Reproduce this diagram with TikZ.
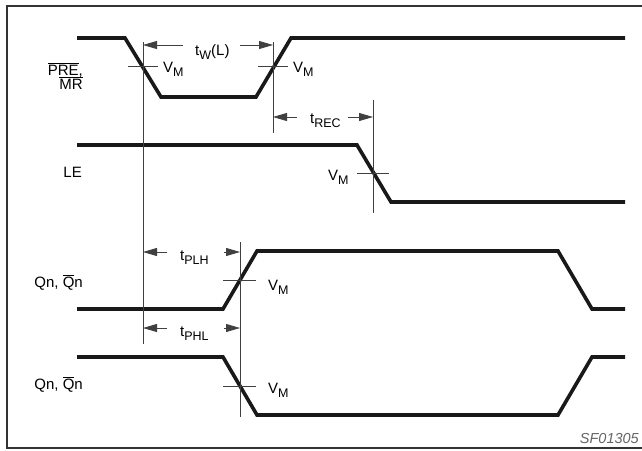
\documentclass[tikz,border=0pt]{standalone}
\usepackage{fontspec}
\setmainfont{Liberation Sans}
\usetikzlibrary{arrows.meta}
\newcommand\sbs[1]{\raisebox{-0.3em}{\fontsize{12.5}{13}\selectfont #1}}
\newcommand\ovl[1]{$\overline{\mbox{#1}}$}
\tikzset{
  wave/.style={line width=3.6pt, line join=miter, line cap=butt, black!90},
  thinl/.style={line width=0.8pt, black!75},
  dimarrow/.style={thinl, -{Triangle[length=14pt,width=8pt]}},
  lbl/.style={inner sep=0pt, font=\fontsize{15}{17}\selectfont},
  frame/.style={line width=2pt, black!80}
}
\begin{document}
\begin{tikzpicture}[x=1pt,y=-1pt]
\useasboundingbox (0,0) rectangle (642,450);
\clip (0,0) rectangle (642,450);
\fill[white] (0,0) rectangle (642,450);
\draw[frame] (7,6) rectangle (680,448);

% waveforms
\draw[wave] (77,38) -- (125,38) -- (161,97) -- (256,97) -- (291,38) -- (625,38);
\draw[wave] (77,145) -- (357,145) -- (391,202) -- (625,202);
\draw[wave] (77,309) -- (223,309) -- (257,251) -- (558,251) -- (592,309) -- (625,309);
\draw[wave] (77,357) -- (223,357) -- (257,415) -- (558,415) -- (592,357) -- (625,357);

% reference verticals
\coordinate (v1t) at (143,42);  \coordinate (v1b) at (143,344);
\coordinate (v2t) at (273,42);  \coordinate (v2b) at (273,133);
\coordinate (v3t) at (373,100); \coordinate (v3b) at (373,213);
\coordinate (v4t) at (240,242); \coordinate (v4b) at (240,417);
\draw[thinl] (v1t) -- (v1b);
\draw[thinl] (v2t) -- (v2b);
\draw[thinl] (v3t) -- (v3b);
\draw[thinl] (v4t) -- (v4b);

% VM ticks
\coordinate (m1a) at (128,66); \coordinate (m1b) at (158,66);
\coordinate (m2a) at (258,66); \coordinate (m2b) at (288,66);
\coordinate (m3a) at (357,173); \coordinate (m3b) at (389,173);
\coordinate (m4a) at (223,280); \coordinate (m4b) at (256,280);
\coordinate (m5a) at (223,386); \coordinate (m5b) at (256,386);
\foreach \a/\b in {m1a/m1b,m2a/m2b,m3a/m3b,m4a/m4b,m5a/m5b}
  \draw[thinl] (\a) -- (\b);

% VM labels
\node[lbl, anchor=base west] (vm1) at (163,72) {V\sbs{M}};
\node[lbl, anchor=base west] (vm2) at (293,72) {V\sbs{M}};
\node[lbl, anchor=base west] (vm3) at (328,180) {V\sbs{M}};
\node[lbl, anchor=base west] (vm4) at (268,290) {V\sbs{M}};
\node[lbl, anchor=base west] (vm5) at (268,393) {V\sbs{M}};

% timing labels
\node[lbl, anchor=base west] (tw) at (195,55) {t\sbs{W}(L)};
\node[lbl, anchor=base west] (trec) at (310,123) {t\sbs{REC}};
\node[lbl, anchor=base west] (tplh) at (180,260) {t\sbs{PLH}};
\node[lbl, anchor=base west] (tphl) at (180,336) {t\sbs{PHL}};

% dimension arrows
\coordinate (a1) at (183,45);  \coordinate (a1e) at (143,45);
\coordinate (a2) at (240,45);  \coordinate (a2e) at (273,45);
\coordinate (a3) at (297,117); \coordinate (a3e) at (273,117);
\coordinate (a4) at (348,117); \coordinate (a4e) at (373,117);
\coordinate (a5) at (167,252); \coordinate (a5e) at (143,252);
\coordinate (a6) at (224,252); \coordinate (a6e) at (240,252);
\coordinate (a7) at (167,328); \coordinate (a7e) at (143,328);
\coordinate (a8) at (224,328); \coordinate (a8e) at (240,328);
\foreach \s/\e in {a1/a1e,a2/a2e,a3/a3e,a4/a4e,a5/a5e,a6/a6e,a7/a7e,a8/a8e}
  \draw[dimarrow] (\s) -- (\e);

% signal names
\node[lbl, anchor=base east] (pre) at (83,75) {\ovl{PRE},};
\node[lbl, anchor=base east] (mr) at (83,89) {\ovl{MR}};
\node[lbl, anchor=base east] (le) at (82,177) {LE};
\node[lbl, anchor=base east] (q1) at (83,287) {Qn, \ovl{Q}n};
\node[lbl, anchor=base east] (q2) at (83,389) {Qn, \ovl{Q}n};

\node[lbl, anchor=base east, text=black!60, font=\fontsize{14.5}{17}\selectfont\itshape] (sf) at (639,443) {SF01305};
\end{tikzpicture}
\end{document}
